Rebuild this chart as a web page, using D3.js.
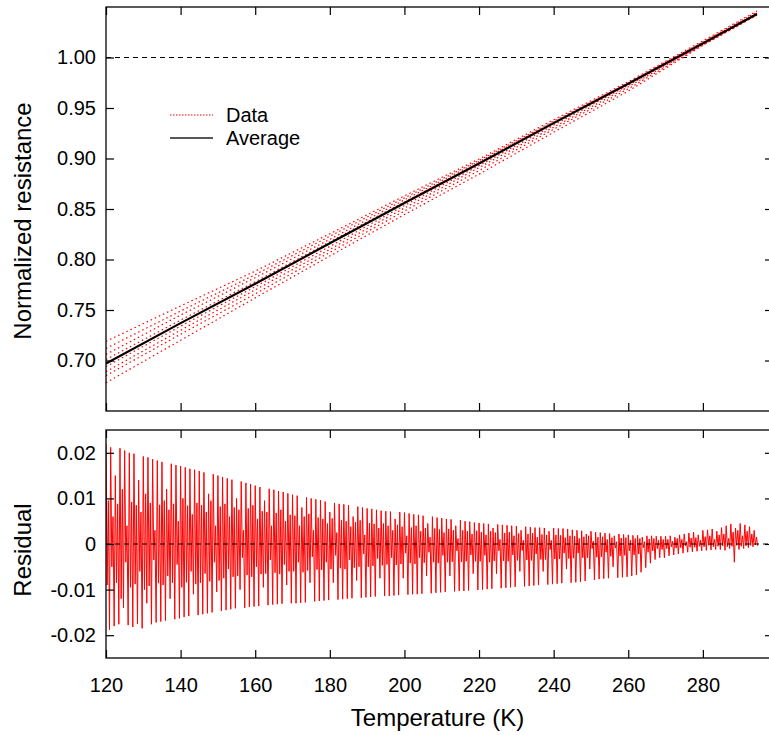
<!DOCTYPE html>
<html><head><meta charset="utf-8">
<script src="https://cdn.jsdelivr.net/npm/d3@7"></script>
<style>
body{margin:0;background:#fff}
svg{display:block}
text{font-family:"Liberation Sans",Arial,Helvetica,sans-serif;fill:#000}
</style>
</head><body>
<svg id="chart" width="769" height="735"></svg>
<script>
// ---------- data ----------
const knotTemps = [120, 140, 160, 180, 200, 220, 240, 260, 280, 294.5];
const averageValues = [0.697, 0.737, 0.776, 0.816, 0.856, 0.895, 0.935, 0.974, 1.014, 1.043];
const data1 = [0.719, 0.754, 0.7885, 0.8255, 0.863, 0.8995, 0.9384, 0.976, 1.0165, 1.046];
const data2 = [0.712, 0.749, 0.785, 0.823, 0.861, 0.898, 0.937, 0.975, 1.0155, 1.045];
const data3 = [0.706, 0.745, 0.782, 0.820, 0.859, 0.897, 0.936, 0.9745, 1.015, 1.044];
const data4 = [0.701, 0.740, 0.778, 0.8175, 0.857, 0.8955, 0.935, 0.974, 1.014, 1.043];
const data5 = [0.694, 0.734, 0.773, 0.813, 0.8535, 0.893, 0.933, 0.9725, 1.0135, 1.043];
const data6 = [0.689, 0.730, 0.770, 0.810, 0.851, 0.891, 0.931, 0.971, 1.013, 1.0425];
const data7 = [0.685, 0.726, 0.766, 0.807, 0.848, 0.888, 0.929, 0.969, 1.0125, 1.042];
const data8 = [0.678, 0.720, 0.762, 0.8035, 0.8445, 0.8845, 0.926, 0.9667, 1.012, 1.042];

// residuals, units of 1e-4; one measurement cycle every 1.25 K starting at 120 K,
// four readings per cycle: peak, inner low, inner high, trough
const residStartT = 120, residCycleK = 1.25;
const residPeak = [
 220,212,150,210,205,200,198,140,192,190,186,183,180,120,176,173,171,168,165,163,
 160,157,110,153,150,147,144,141,100,137,134,131,128,125,95,121,119,116,114,111,
 108,106,80,102,100,98,96,93,70,90,88,87,85,60,82,80,78,77,75,73,
 72,71,55,70,69,67,65,64,62,45,60,58,57,55,54,40,52,50,49,47,
 46,45,44,35,43,42,41,40,39,30,38,37,36,36,35,28,35,34,34,33,
 31,30,29,22,28,26,25,24,23,18,22,21,20,19,19,15,18,18,17,17,
 17,18,15,20,22,24,26,20,30,31,33,28,36,40,44,35,45,42,38,30];
const residInnerLow = [
 -90,-50,-85,-120,-40,-95,-88,-60,-100,-92,-35,-86,-90,-70,-85,-45,-95,-84,-60,-88,
 -85,-65,-82,-40,-80,-75,-55,-72,-70,-30,-68,-72,-50,-66,-65,-35,-63,-66,-45,-60,
 -60,-40,-62,-58,-28,-56,-57,-40,-55,-25,-53,-55,-35,-52,-50,-22,-50,-48,-32,-47,
 -45,-30,-46,-44,-20,-42,-44,-30,-41,-18,-40,-42,-25,-40,-39,-15,-39,-38,-24,-38,
 -38,-25,-40,-37,-15,-37,-38,-24,-36,-14,-35,-36,-22,-34,-34,-12,-33,-33,-20,-32,
 -31,-20,-30,-30,-10,-29,-28,-18,-27,-9,-26,-25,-15,-24,-22,-8,-18,-15,-10,-12,
 -10,-6,-9,-8,-4,-7,-7,-5,-6,-3,-6,-5,-4,-6,-5,-3,-5,-4,-3,-2];
const residInnerHigh = [
 95,60,88,120,40,92,85,70,110,90,30,86,95,75,88,50,100,84,65,90,
 85,70,95,40,82,88,60,80,75,30,78,85,55,72,70,40,68,75,50,64,
 62,40,60,66,30,58,55,45,56,25,52,50,38,48,52,20,46,44,35,45,
 40,30,42,38,18,36,40,28,35,15,34,32,25,33,30,12,30,28,22,29,
 26,20,28,25,10,24,26,18,23,8,22,24,15,21,20,8,20,19,14,18,
 17,12,16,18,6,15,16,10,14,5,13,14,8,12,12,5,11,12,8,10,
 10,6,12,10,5,13,14,8,16,18,10,20,22,12,26,30,18,28,22,15];
const residTrough = [
 -188,-180,-176,-140,-178,-182,-175,-185,-130,-176,-172,-170,-168,-120,-165,-163,-160,-158,-110,-156,
 -154,-152,-150,-105,-147,-145,-143,-141,-100,-140,-138,-137,-136,-95,-134,-133,-132,-131,-90,-130,
 -130,-129,-128,-85,-126,-125,-124,-123,-85,-122,-121,-120,-119,-80,-118,-117,-116,-115,-75,-114,
 -114,-113,-112,-75,-111,-110,-110,-109,-70,-108,-107,-106,-105,-70,-104,-103,-103,-102,-65,-101,
 -100,-99,-98,-65,-97,-96,-95,-94,-60,-93,-92,-91,-90,-60,-89,-88,-87,-86,-55,-85,
 -84,-83,-81,-55,-79,-77,-76,-75,-50,-74,-73,-72,-70,-68,-62,-52,-42,-34,-30,-30,
 -26,-24,-22,-20,-18,-17,-16,-15,-14,-13,-12,-12,-14,-10,-40,-12,-10,-8,-6,-4];

const xTickValues = [120, 140, 160, 180, 200, 220, 240, 260, 280];
const topTickValues = [0.70, 0.75, 0.80, 0.85, 0.90, 0.95, 1.00];
const residTickValues = [-0.02, -0.01, 0, 0.01, 0.02];
const legendLabels = ["Data", "Average"];
const xTitle = "Temperature (K)", topTitle = "Normalized resistance", botTitle = "Residual";

// ---------- layout ----------
const L = 106, R = 773, T1 = 7, B1 = 411, T2 = 430, B2 = 658;
const svg = d3.select("#chart");
const x = d3.scaleLinear().domain([120, 298.8]).range([L, R]);
const yTop = d3.scaleLinear().domain([0.65, 1.05]).range([B1, T1]);
const yRes = d3.scaleLinear().domain([-0.025, 0.025]).range([B2, T2]);

const defs = svg.append("defs");
defs.append("clipPath").attr("id","c1").append("rect").attr("x",L).attr("y",T1).attr("width",R-L).attr("height",B1-T1);
defs.append("clipPath").attr("id","c2").append("rect").attr("x",L).attr("y",T2).attr("width",R-L).attr("height",B2-T2);

// ---------- top panel ----------
const g1 = svg.append("g").attr("clip-path","url(#c1)");
g1.append("line").attr("x1",L).attr("x2",R).attr("y1",yTop(1.0)).attr("y2",yTop(1.0))
  .attr("stroke","#000").attr("stroke-width",1).attr("stroke-dasharray","5,4");
const lineTop = d3.line().x((d,i)=>x(knotTemps[i])).y(d=>yTop(d));
[data1,data2,data3,data4,data5,data6,data7,data8].forEach(s=>{
  g1.append("path").attr("d",lineTop(s)).attr("fill","none")
    .attr("stroke","#ff0000").attr("stroke-width",1.2).attr("stroke-dasharray","1.5,3");
});
g1.append("path").attr("d",lineTop(averageValues)).attr("fill","none")
  .attr("stroke","#000").attr("stroke-width",2.2);

// ---------- residual panel ----------
const residPts = [];
residPeak.forEach((v,k)=>{
  const t = residStartT + k*residCycleK;
  residPts.push([t, residPeak[k]*1e-4]);
  residPts.push([t+residCycleK*0.25, residInnerLow[k]*1e-4]);
  residPts.push([t+residCycleK*0.5, residInnerHigh[k]*1e-4]);
  residPts.push([t+residCycleK*0.75, residTrough[k]*1e-4]);
});
const g2 = svg.append("g").attr("clip-path","url(#c2)");
g2.append("path").attr("d", d3.line().x(d=>x(d[0])).y(d=>yRes(d[1]))(residPts))
  .attr("fill","none").attr("stroke","#ff0000").attr("stroke-width",1);
g2.append("line").attr("x1",L).attr("x2",R).attr("y1",yRes(0)).attr("y2",yRes(0))
  .attr("stroke","#000").attr("stroke-width",1).attr("stroke-dasharray","5,4");

// ---------- axes ----------
const FS_TICK = 20;
function styleAxis(g){
  g.select(".domain").remove();
  g.selectAll(".tick line").attr("stroke","#000").attr("stroke-width",1.2);
  g.selectAll("text").attr("font-size",FS_TICK).attr("font-family",'"Liberation Sans",Arial,sans-serif').attr("fill","#000");
}
const fmtTop = d3.format(".2f");
const fmtRes = d => d===0 ? "0" : (d<0?"-":"") + Math.abs(d).toFixed(2);

// top panel
styleAxis(svg.append("g").attr("transform",`translate(${L},0)`)
  .call(d3.axisLeft(yTop).tickValues(topTickValues).tickSize(-8).tickPadding(10).tickFormat(fmtTop)));
styleAxis(svg.append("g").attr("transform",`translate(${R},0)`)
  .call(d3.axisRight(yTop).tickValues(topTickValues).tickSize(-8).tickFormat("")));
styleAxis(svg.append("g").attr("transform",`translate(0,${B1})`)
  .call(d3.axisBottom(x).tickValues(xTickValues).tickSize(-8).tickFormat("")));
styleAxis(svg.append("g").attr("transform",`translate(0,${T1})`)
  .call(d3.axisTop(x).tickValues(xTickValues).tickSize(-8).tickFormat("")));
// residual panel
styleAxis(svg.append("g").attr("transform",`translate(${L},0)`)
  .call(d3.axisLeft(yRes).tickValues(residTickValues).tickSize(-8).tickPadding(10).tickFormat(fmtRes)));
styleAxis(svg.append("g").attr("transform",`translate(${R},0)`)
  .call(d3.axisRight(yRes).tickValues(residTickValues).tickSize(-8).tickFormat("")));
styleAxis(svg.append("g").attr("transform",`translate(0,${B2})`)
  .call(d3.axisBottom(x).tickValues(xTickValues).tickSize(-8).tickPadding(20).tickFormat(d3.format("d"))));
styleAxis(svg.append("g").attr("transform",`translate(0,${T2})`)
  .call(d3.axisTop(x).tickValues(xTickValues).tickSize(-8).tickFormat("")));

// frames
[[T1,B1],[T2,B2]].forEach(([t,b])=>{
  svg.append("rect").attr("x",L).attr("y",t).attr("width",R-L).attr("height",b-t)
    .attr("fill","none").attr("stroke","#000").attr("stroke-width",1.3);
});

// ---------- legend ----------
const leg = svg.append("g");
const legY = [115, 138];
leg.append("line").attr("x1",170).attr("x2",213).attr("y1",legY[0]).attr("y2",legY[0])
  .attr("stroke","#ff0000").attr("stroke-width",1.1).attr("stroke-dasharray","1.5,1.5");
leg.append("line").attr("x1",170).attr("x2",213).attr("y1",legY[1]).attr("y2",legY[1])
  .attr("stroke","#222").attr("stroke-width",1.4);
legendLabels.forEach((t,i)=>{
  leg.append("text").attr("x",226).attr("y",legY[i]).attr("dy","0.35em")
    .attr("font-size",20).text(t);
});

// ---------- titles ----------
svg.append("text").attr("x",(L+R)/2 - 2).attr("y",726).attr("text-anchor","middle")
  .attr("font-size",24).text(xTitle);
svg.append("text").attr("transform",`translate(31,221) rotate(-90)`).attr("text-anchor","middle")
  .attr("font-size",24).text(topTitle);
svg.append("text").attr("transform",`translate(31,550) rotate(-90)`).attr("text-anchor","middle")
  .attr("font-size",24).text(botTitle);
</script>
</body></html>
